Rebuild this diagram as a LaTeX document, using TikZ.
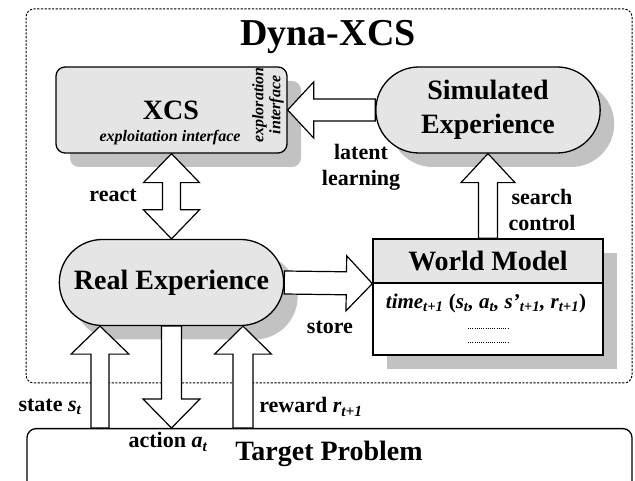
\documentclass[tikz,border=0pt]{standalone}
\usepackage{fontspec}
\setmainfont{Liberation Serif}
\usetikzlibrary{calc,shapes.misc,shadows}

\newcommand\titlefont{\fontsize{38}{44}\selectfont\bfseries}
\newcommand\boxfont{\fontsize{28}{34}\selectfont\bfseries}
\newcommand\lblfont{\fontsize{22}{26}\selectfont\bfseries}
\newcommand\ifacefont{\fontsize{16}{17}\selectfont\bfseries\itshape}
\newcommand\rowfont{\fontsize{21}{24}\selectfont\bfseries\itshape}
\newcommand\lowidx[1]{\textsubscript{#1}}

\tikzset{
  shaded/.style={drop shadow={shadow xshift=14pt,shadow yshift=-14pt,fill=black!24,opacity=1}},
  gbox/.style={draw,line width=1.3pt,fill=black!10,shaded},
  gstadium/.style={gbox,rounded rectangle,minimum width=231pt,minimum height=86pt,
    align=center,font=\boxfont},
  fatarrow/.style n args={3}{draw,fill=white,line width=1.2pt,line join=miter,
    to path={($(\tikztostart)!#1!90:(\tikztotarget)$)
      -- ($(\tikztotarget)!#3!(\tikztostart)!#1!90:(\tikztotarget)$)
      -- ($(\tikztotarget)!#3!(\tikztostart)!#2!90:(\tikztotarget)$)
      -- (\tikztotarget)
      -- ($(\tikztotarget)!#3!(\tikztostart)!#2!-90:(\tikztotarget)$)
      -- ($(\tikztotarget)!#3!(\tikztostart)!#1!-90:(\tikztotarget)$)
      -- ($(\tikztostart)!#1!-90:(\tikztotarget)$) -- cycle}},
  dblarrow/.style n args={3}{draw,fill=white,line width=1.2pt,line join=miter,
    to path={(\tikztostart)
      -- ($(\tikztostart)!#3!(\tikztotarget)!#2!90:(\tikztotarget)$)
      -- ($(\tikztostart)!#3!(\tikztotarget)!#1!90:(\tikztotarget)$)
      -- ($(\tikztotarget)!#3!(\tikztostart)!#1!90:(\tikztotarget)$)
      -- ($(\tikztotarget)!#3!(\tikztostart)!#2!90:(\tikztotarget)$)
      -- (\tikztotarget)
      -- ($(\tikztotarget)!#3!(\tikztostart)!#2!-90:(\tikztotarget)$)
      -- ($(\tikztotarget)!#3!(\tikztostart)!#1!-90:(\tikztotarget)$)
      -- ($(\tikztostart)!#3!(\tikztotarget)!#1!-90:(\tikztotarget)$)
      -- ($(\tikztostart)!#3!(\tikztotarget)!#2!-90:(\tikztotarget)$)
      -- cycle}},
}

\begin{document}
\begin{tikzpicture}[x=1pt,y=1pt]
  \useasboundingbox (0,0) rectangle (635,481);
  \draw[line width=1pt,dash pattern=on 2.2pt off 1.5pt,rounded corners=8pt]
    (26,98) rectangle (632,472);
  \node[font=\titlefont] (title) at (328,444) {Dyna-XCS};

  \node[gbox,rounded corners=9pt,minimum width=231pt,minimum height=86pt] (xcs) at (171.5,371) {};
  \node[font=\boxfont] (xcsname) at (171,371) {XCS};
  \node[font=\ifacefont] (exploit) at (170,343) {exploitation interface};
  \node[font=\ifacefont,rotate=90,align=center] (explore) at (268,376) {exploration\\interface};
  \node[gstadium] (sim) at (488,371) {Simulated\\Experience};
  \node[gstadium] (real) at (171.5,198.5) {Real Experience};

  \node[draw,line width=1.3pt,fill=white,shaded,minimum width=230pt,minimum height=116pt] (wm) at (488,184) {};
  \node[draw,line width=1.3pt,fill=black!10,minimum width=230pt,minimum height=44pt,
    anchor=north,font=\boxfont] (wmh) at (wm.north) {World Model};
  \node[font=\rowfont] (wmrow) at (486,178)
    {time\lowidx{t+1} \upshape(\itshape s\lowidx{t}, a\lowidx{t}, s'\lowidx{t+1}, r\lowidx{t+1}\upshape)};
  \draw[line width=0.9pt,dash pattern=on 0.8pt off 1.4pt] (468,153) -- (508,153);
  \draw[line width=0.9pt,dash pattern=on 0.8pt off 1.4pt] (468,139) -- (508,139);

  \node[draw,line width=1.3pt,rounded corners=9pt,minimum width=605pt,minimum height=90pt,
    anchor=north] (tp) at (329.5,53) {};
  \node[font=\boxfont] (tptext) at (329,27) {Target Problem};

  \coordinate (sIn) at ([xshift=-71.5pt]real.south);
  \coordinate (rIn) at ([xshift=71.5pt]real.south);

  \draw[fatarrow={11pt}{28pt}{26pt}] (sim.west) to (xcs.east);
  \draw[dblarrow={9pt}{28pt}{29pt}] (xcs.south) to (real.north);
  \draw[fatarrow={9.5pt}{27pt}{29pt}] (wmh.north) to (sim.south);
  \draw[fatarrow={11.5pt}{27.5pt}{26pt}] (real.east) to (wmh.south west);
  \draw[fatarrow={9pt}{29pt}{28pt}] (tp.north -| sIn) to (sIn);
  \draw[fatarrow={10pt}{28.5pt}{29pt}] (real.south) to (real.south |- tp.north);
  \draw[fatarrow={10pt}{28.5pt}{28pt}] (tp.north -| rIn) to (rIn);

  \node[font=\lblfont] (react) at (113,286) {react};
  \node[font=\lblfont,align=center] (latent) at (361,314) {latent\\learning};
  \node[font=\lblfont,align=center] (search) at (542,271) {search\\control};
  \node[font=\lblfont] (store) at (330,154) {store};
  \node[font=\lblfont] (state) at (50,74) {state \textit{s}\lowidx{\itshape t}};
  \node[font=\lblfont] (action) at (168,39) {action \textit{a}\lowidx{\itshape t}};
  \node[font=\lblfont] (reward) at (311,74) {reward \textit{r\lowidx{t+1}}};
\end{tikzpicture}
\end{document}
